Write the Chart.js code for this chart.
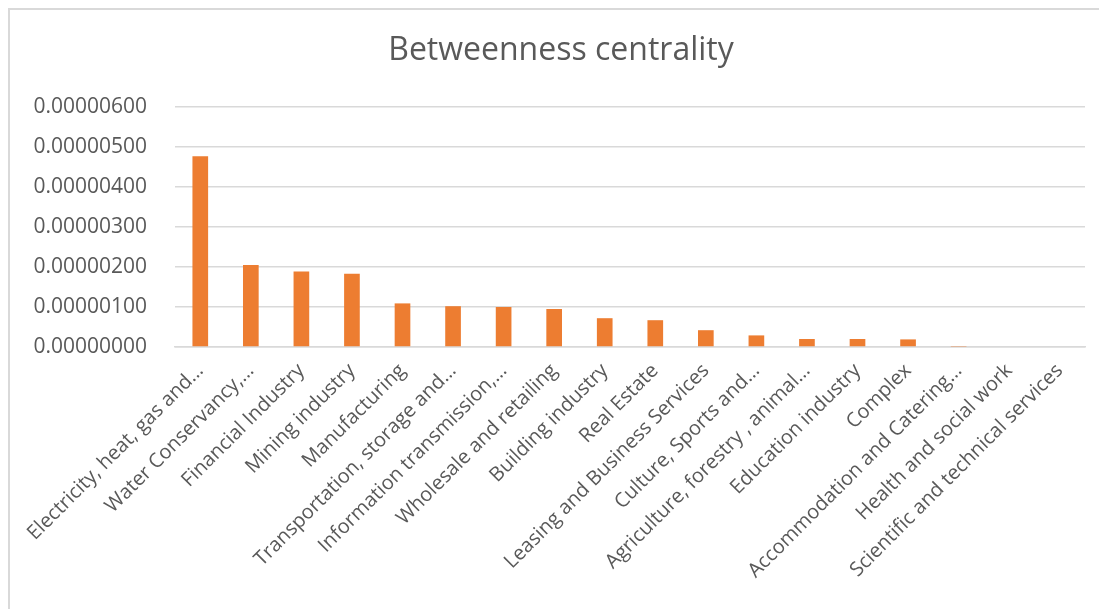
<!DOCTYPE html>
<html>
<head>
<meta charset="utf-8">
<script src="https://cdn.jsdelivr.net/npm/chart.js@4.4.1/dist/chart.umd.min.js"></script>
<style>
  html, body { margin: 0; padding: 0; background: #ffffff; overflow: hidden; }
  #frame { position: absolute; left: 8px; top: 8px; width: 1200px; height: 700px;
           border-top: 2px solid #d9d9d9; border-left: 2px solid #d9d9d9; }
  #c { position: absolute; left: 0; top: 0; }
</style>
</head>
<body>
<div id="frame"></div>
<canvas id="c" width="1099" height="609"></canvas>
<script>
const categories = [
  "Electricity, heat, gas and\u2026",
  "Water Conservancy,\u2026",
  "Financial Industry",
  "Mining industry",
  "Manufacturing",
  "Transportation, storage and\u2026",
  "Information transmission,\u2026",
  "Wholesale and retailing",
  "Building industry",
  "Real Estate",
  "Leasing and Business Services",
  "Culture, Sports and\u2026",
  "Agriculture, forestry , animal\u2026",
  "Education industry",
  "Complex",
  "Accommodation and Catering\u2026",
  "Health and social work",
  "Scientific and technical services"
];
const betweenness = [
  0.00000477, 0.00000205, 0.00000189, 0.00000183, 0.00000109, 0.00000102,
  0.00000100, 0.00000095, 0.00000072, 0.00000067, 0.00000042, 0.00000029,
  0.00000020, 0.00000020, 0.00000019, 0.00000001, 0, 0
];
const yTicks = [0, 0.000001, 0.000002, 0.000003, 0.000004, 0.000005, 0.000006];
const chartTitle = "Betweenness centrality";

const grey = "#595959";

// Title drawn centred over the chart frame (as in the original), not over the canvas.
const frameTitle = {
  id: "frameTitle",
  afterDraw(chart) {
    const ctx = chart.ctx;
    ctx.save();
    ctx.fillStyle = grey;
    ctx.font = "32px 'Open Sans', sans-serif";
    ctx.textAlign = "center";
    ctx.textBaseline = "middle";
    ctx.fillText(chartTitle, 561, 51);
    ctx.restore();
  }
};

new Chart(document.getElementById("c"), {
  type: "bar",
  data: {
    labels: categories,
    datasets: [{
      label: chartTitle,
      data: betweenness,
      backgroundColor: "#ED7D31",
      borderWidth: 0,
      categoryPercentage: 1,
      barPercentage: 0.31
    }]
  },
  plugins: [frameTitle],
  options: {
    responsive: false,
    animation: false,
    layout: { padding: { left: 0, right: 14, top: 107, bottom: 0 } },
    plugins: {
      legend: { display: false },
      tooltip: { enabled: false },
      title: { display: false }
    },
    scales: {
      x: {
        grid: { display: false, drawTicks: false },
        border: { display: true, color: "#d9d9d9", width: 1.5 },
        ticks: {
          autoSkip: false,
          minRotation: 45,
          maxRotation: 45,
          color: grey,
          padding: 12,
          font: { family: "'Open Sans', sans-serif", size: 20 }
        },
        afterFit: (s) => { s.height = 262; }
      },
      y: {
        min: 0,
        max: 0.000006,
        afterBuildTicks: (s) => { s.ticks = yTicks.map(v => ({ value: v })); },
        grid: { color: "#d9d9d9", lineWidth: 1.5, drawTicks: false },
        border: { display: false },
        ticks: {
          color: grey,
          padding: 28,
          font: { family: "'Open Sans', sans-serif", size: 21 },
          callback: (v) => Number(v).toFixed(8)
        },
        afterFit: (s) => { s.width = 175; }
      }
    }
  }
});
</script>
</body>
</html>
